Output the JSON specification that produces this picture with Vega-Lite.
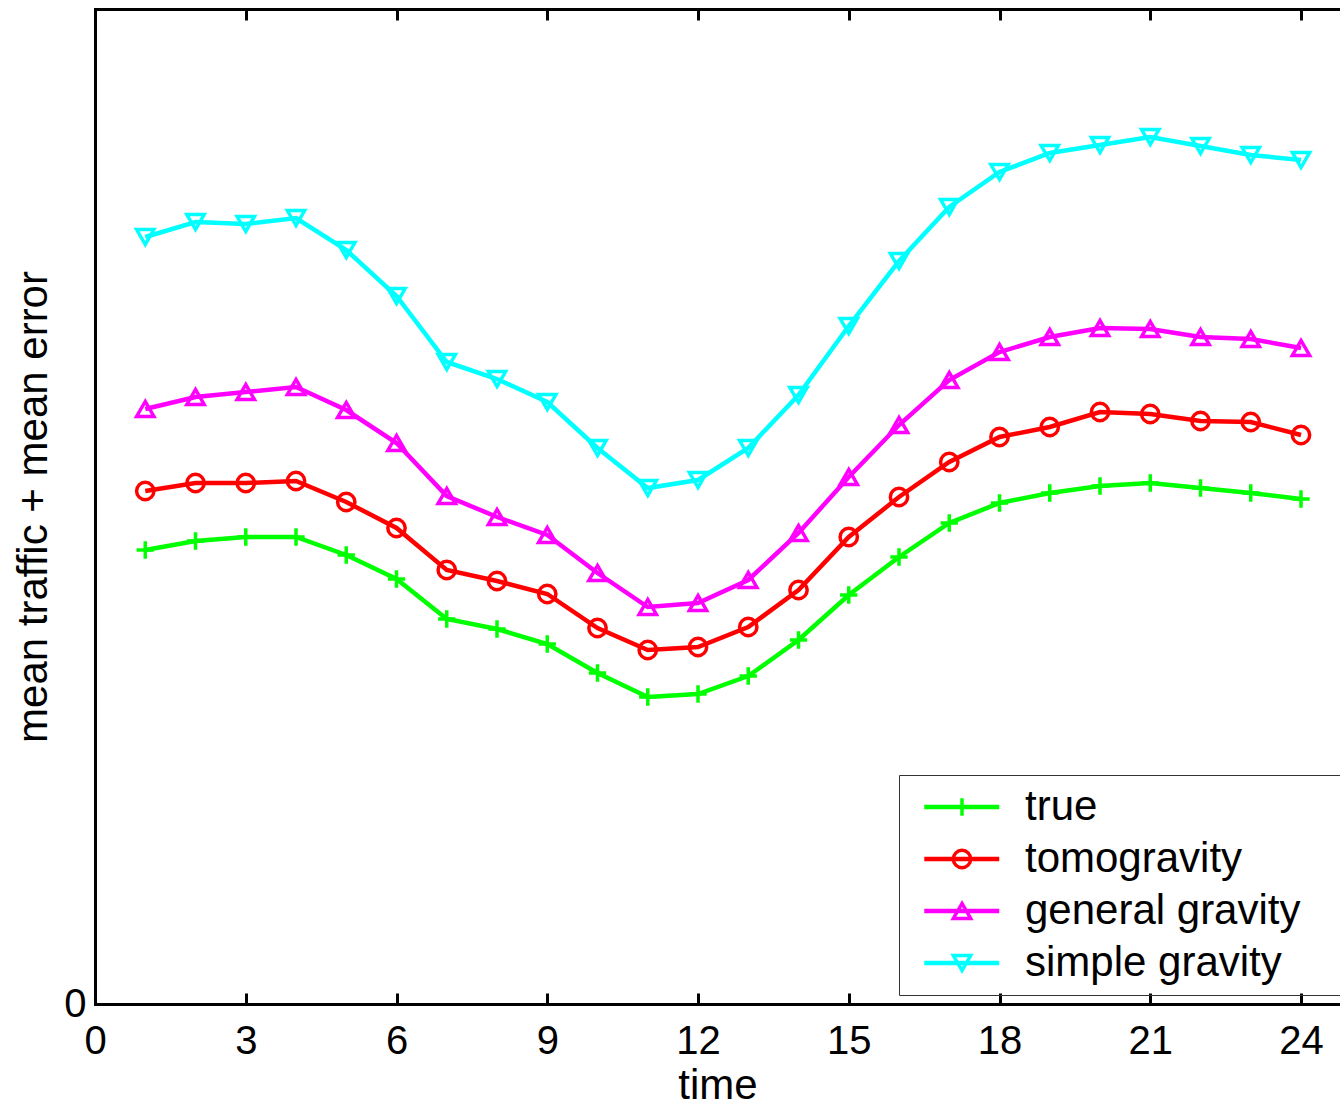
{
  "$schema": "https://vega.github.io/schema/vega-lite/v6.json",
  "width": 1245,
  "height": 995,
  "autosize": {"type": "none"},
  "padding": {"left": 95, "top": 9, "right": 0, "bottom": 103},
  "config": {"font": "Liberation Sans", "view": {"stroke": null}},
  "data": {"values": [
    {"time": 1, "series": "true", "value": 4.54}, {"time": 2, "series": "true", "value": 4.63}, {"time": 3, "series": "true", "value": 4.67}, {"time": 4, "series": "true", "value": 4.67}, {"time": 5, "series": "true", "value": 4.49}, {"time": 6, "series": "true", "value": 4.25}, {"time": 7, "series": "true", "value": 3.85}, {"time": 8, "series": "true", "value": 3.75}, {"time": 9, "series": "true", "value": 3.60}, {"time": 10, "series": "true", "value": 3.31}, {"time": 11, "series": "true", "value": 3.07}, {"time": 12, "series": "true", "value": 3.10}, {"time": 13, "series": "true", "value": 3.28}, {"time": 14, "series": "true", "value": 3.64}, {"time": 15, "series": "true", "value": 4.09}, {"time": 16, "series": "true", "value": 4.47}, {"time": 17, "series": "true", "value": 4.81}, {"time": 18, "series": "true", "value": 5.01}, {"time": 19, "series": "true", "value": 5.11}, {"time": 20, "series": "true", "value": 5.18}, {"time": 21, "series": "true", "value": 5.21}, {"time": 22, "series": "true", "value": 5.16}, {"time": 23, "series": "true", "value": 5.11}, {"time": 24, "series": "true", "value": 5.05},
    {"time": 1, "series": "tomogravity", "value": 5.13}, {"time": 2, "series": "tomogravity", "value": 5.21}, {"time": 3, "series": "tomogravity", "value": 5.21}, {"time": 4, "series": "tomogravity", "value": 5.23}, {"time": 5, "series": "tomogravity", "value": 5.02}, {"time": 6, "series": "tomogravity", "value": 4.76}, {"time": 7, "series": "tomogravity", "value": 4.34}, {"time": 8, "series": "tomogravity", "value": 4.23}, {"time": 9, "series": "tomogravity", "value": 4.10}, {"time": 10, "series": "tomogravity", "value": 3.76}, {"time": 11, "series": "tomogravity", "value": 3.54}, {"time": 12, "series": "tomogravity", "value": 3.57}, {"time": 13, "series": "tomogravity", "value": 3.77}, {"time": 14, "series": "tomogravity", "value": 4.14}, {"time": 15, "series": "tomogravity", "value": 4.67}, {"time": 16, "series": "tomogravity", "value": 5.07}, {"time": 17, "series": "tomogravity", "value": 5.42}, {"time": 18, "series": "tomogravity", "value": 5.67}, {"time": 19, "series": "tomogravity", "value": 5.77}, {"time": 20, "series": "tomogravity", "value": 5.92}, {"time": 21, "series": "tomogravity", "value": 5.90}, {"time": 22, "series": "tomogravity", "value": 5.83}, {"time": 23, "series": "tomogravity", "value": 5.82}, {"time": 24, "series": "tomogravity", "value": 5.69},
    {"time": 1, "series": "general gravity", "value": 5.95}, {"time": 2, "series": "general gravity", "value": 6.07}, {"time": 3, "series": "general gravity", "value": 6.12}, {"time": 4, "series": "general gravity", "value": 6.17}, {"time": 5, "series": "general gravity", "value": 5.94}, {"time": 6, "series": "general gravity", "value": 5.61}, {"time": 7, "series": "general gravity", "value": 5.08}, {"time": 8, "series": "general gravity", "value": 4.87}, {"time": 9, "series": "general gravity", "value": 4.69}, {"time": 10, "series": "general gravity", "value": 4.31}, {"time": 11, "series": "general gravity", "value": 3.97}, {"time": 12, "series": "general gravity", "value": 4.01}, {"time": 13, "series": "general gravity", "value": 4.24}, {"time": 14, "series": "general gravity", "value": 4.71}, {"time": 15, "series": "general gravity", "value": 5.27}, {"time": 16, "series": "general gravity", "value": 5.79}, {"time": 17, "series": "general gravity", "value": 6.24}, {"time": 18, "series": "general gravity", "value": 6.52}, {"time": 19, "series": "general gravity", "value": 6.67}, {"time": 20, "series": "general gravity", "value": 6.76}, {"time": 21, "series": "general gravity", "value": 6.75}, {"time": 22, "series": "general gravity", "value": 6.67}, {"time": 23, "series": "general gravity", "value": 6.65}, {"time": 24, "series": "general gravity", "value": 6.56},
    {"time": 1, "series": "simple gravity", "value": 7.67}, {"time": 2, "series": "simple gravity", "value": 7.82}, {"time": 3, "series": "simple gravity", "value": 7.80}, {"time": 4, "series": "simple gravity", "value": 7.86}, {"time": 5, "series": "simple gravity", "value": 7.54}, {"time": 6, "series": "simple gravity", "value": 7.08}, {"time": 7, "series": "simple gravity", "value": 6.42}, {"time": 8, "series": "simple gravity", "value": 6.25}, {"time": 9, "series": "simple gravity", "value": 6.02}, {"time": 10, "series": "simple gravity", "value": 5.56}, {"time": 11, "series": "simple gravity", "value": 5.16}, {"time": 12, "series": "simple gravity", "value": 5.24}, {"time": 13, "series": "simple gravity", "value": 5.56}, {"time": 14, "series": "simple gravity", "value": 6.09}, {"time": 15, "series": "simple gravity", "value": 6.78}, {"time": 16, "series": "simple gravity", "value": 7.43}, {"time": 17, "series": "simple gravity", "value": 7.97}, {"time": 18, "series": "simple gravity", "value": 8.32}, {"time": 19, "series": "simple gravity", "value": 8.51}, {"time": 20, "series": "simple gravity", "value": 8.59}, {"time": 21, "series": "simple gravity", "value": 8.67}, {"time": 22, "series": "simple gravity", "value": 8.58}, {"time": 23, "series": "simple gravity", "value": 8.49}, {"time": 24, "series": "simple gravity", "value": 8.44}
  ]},
  "resolve": {"axis": {"x": "independent"}, "scale": {"color": "independent", "shape": "independent"}, "legend": {"color": "independent", "shape": "independent"}},
  "layer": [
    {
      "mark": {"type": "line", "strokeWidth": 4.5},
      "encoding": {
        "x": {"field": "time", "type": "quantitative",
          "scale": {"domain": [0, 24.776], "nice": false, "zero": false},
          "axis": {"orient": "bottom", "values": [0, 3, 6, 9, 12, 15, 18, 21, 24], "grid": false,
            "domainColor": "black", "domainWidth": 3, "domainCap": "square",
            "tickColor": "black", "tickWidth": 3, "tickSize": -11,
            "labelFontSize": 40, "labelColor": "black", "labelPadding": 28, "labelFlush": false,
            "title": "time", "titleFontSize": 42, "titleFontWeight": "normal", "titleColor": "black", "titlePadding": 4}},
        "y": {"field": "value", "type": "quantitative",
          "scale": {"domain": [0, 9.95], "nice": false},
          "axis": {"orient": "left", "values": [0], "format": "d", "grid": false, "ticks": false,
            "domainColor": "black", "domainWidth": 3, "domainCap": "square",
            "labelFontSize": 40, "labelColor": "black", "labelPadding": 9,
            "title": "mean traffic + mean error", "titleFontSize": 42, "titleFontWeight": "normal", "titleColor": "black", "titlePadding": 8}},
        "color": {"field": "series", "type": "nominal",
          "scale": {"domain": ["true", "tomogravity", "general gravity", "simple gravity"], "range": ["#00ff00", "#ff0000", "#ff00ff", "#00ffff"]},
          "legend": {"orient": "none", "legendX": 804, "legendY": 766, "title": null,
            "padding": 11,
            "symbolType": "M-2,0H2", "symbolSize": 1406, "symbolStrokeWidth": 4.5, "symbolOffset": 30.75,
            "rowPadding": 10, "labelOffset": 42, "labelLimit": 1000,
            "labelFontSize": 42, "labelColor": "transparent"}}
      }
    },
    {
      "mark": {"type": "point", "filled": false, "strokeWidth": 3.5, "size": 300, "opacity": 1},
      "encoding": {
        "x": {"field": "time", "type": "quantitative",
          "axis": {"orient": "top", "values": [0, 3, 6, 9, 12, 15, 18, 21, 24], "grid": false, "labels": false, "title": null,
            "domainColor": "black", "domainWidth": 3, "domainCap": "square",
            "tickColor": "black", "tickWidth": 3, "tickSize": -11}},
        "y": {"field": "value", "type": "quantitative"},
        "color": {"field": "series", "type": "nominal",
          "scale": {"domain": ["true", "tomogravity", "general gravity", "simple gravity"], "range": ["#00ff00", "#ff0000", "#ff00ff", "#00ffff"]},
          "legend": {"orient": "none", "legendX": 804, "legendY": 766, "title": "\u00a0", "titleOrient": "right", "titlePadding": 40,
            "padding": 11, "strokeColor": "#333333", "symbolSize": 300, "symbolStrokeWidth": 3.5, "symbolOffset": 31,
            "rowPadding": 10, "labelOffset": 42, "labelLimit": 1000,
            "labelFontSize": 42, "labelColor": "black"}},
        "shape": {"field": "series", "type": "nominal",
          "scale": {"domain": ["true", "tomogravity", "general gravity", "simple gravity"], "range": ["M-1,0H1M0,-1V1", "circle", "triangle-up", "triangle-down"]},
          "legend": {"orient": "none", "legendX": 804, "legendY": 766, "title": "\u00a0", "titleOrient": "right", "titlePadding": 40,
            "padding": 11, "strokeColor": "#333333", "symbolSize": 300, "symbolStrokeWidth": 3.5, "symbolOffset": 31,
            "rowPadding": 10, "labelOffset": 42, "labelLimit": 1000,
            "labelFontSize": 42, "labelColor": "black"}}
      }
    }
  ]
}
